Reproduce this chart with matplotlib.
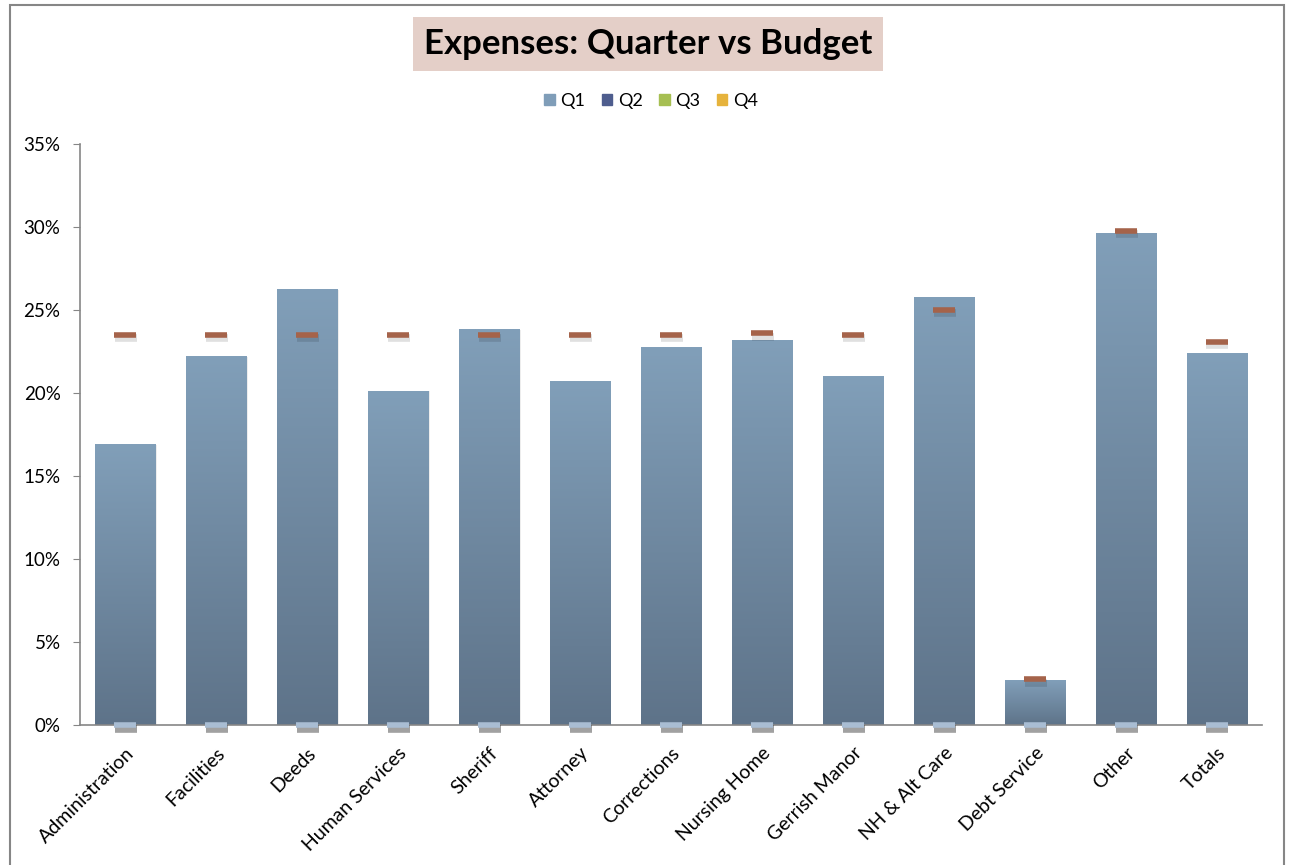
import matplotlib
matplotlib.use("Agg")
import matplotlib.pyplot as plt
import numpy as np
from matplotlib.patches import Rectangle
from matplotlib.colors import LinearSegmentedColormap

categories = ["Administration", "Facilities", "Deeds", "Human Services", "Sheriff",
              "Attorney", "Corrections", "Nursing Home", "Gerrish Manor",
              "NH & Alt Care", "Debt Service", "Other", "Totals"]
q1_actual = [16.9, 22.2, 26.25, 20.15, 23.85, 20.7, 22.75, 23.2, 21.0, 25.8, 2.7, 29.65, 22.4]
budget = [23.5, 23.5, 23.5, 23.5, 23.5, 23.5, 23.5, 23.6, 23.5, 25.0, 2.75, 29.75, 23.1]
zero_line = [0] * 13
legend_labels = ["Q1", "Q2", "Q3", "Q4"]
legend_colors = ["#7F9DB8", "#4E5D8E", "#A6BF52", "#E6B33C"]
yticks = [0, 5, 10, 15, 20, 25, 30, 35]

plt.rcParams['font.family'] = ['Lato', 'DejaVu Sans']

fig = plt.figure(figsize=(12.89, 8.65), dpi=100)
ax = fig.add_axes([80/1289, 1-725/865, (1262-80)/1289, (725-144)/865])

x = np.arange(len(categories))
bars = ax.bar(x, q1_actual, width=0.66, color="#7592AC", zorder=2)

grad = np.linspace(0, 1, 256).reshape(-1, 1)
cmap = LinearSegmentedColormap.from_list("g", ["#5E7389", "#819FB9"])
for b in bars:
    x0, w, h = b.get_x(), b.get_width(), b.get_height()
    ax.add_patch(Rectangle((x0 + 0.015, 0), w, h - 0.05, color="#000000", alpha=0.07,
                           zorder=1.5, lw=0))
    im = ax.imshow(grad, extent=(x0, x0 + w, 0, h), origin="lower", cmap=cmap,
                   aspect="auto", zorder=2.1, interpolation="bilinear")
    im.set_clip_path(b)

MS, MEW = 16, 4
# budget markers with soft shadow
ax.plot(x + 0.01, np.array(budget) - 0.2, linestyle="none", marker="_", markersize=MS,
        markeredgewidth=MEW + 1.5, color="#000000", alpha=0.12, zorder=3)
ax.plot(x, budget, linestyle="none", marker="_", markersize=MS, markeredgewidth=MEW,
        color="#A5634A", zorder=4)
# zero-line markers
ax.plot(x + 0.01, np.array(zero_line) - 0.22, linestyle="none", marker="_", markersize=MS,
        markeredgewidth=MEW + 1.5, color="#303030", alpha=0.45, zorder=3, clip_on=False)
ax.plot(x, zero_line, linestyle="none", marker="_", markersize=MS, markeredgewidth=MEW,
        color="#A9BDD3", zorder=4, clip_on=False)

ax.set_xlim(-0.5, len(categories) - 0.5)
ax.set_ylim(0, 35)
ax.set_yticks(yticks)
ax.set_yticklabels([f"{v}%" for v in yticks], fontsize=13.5)
ax.set_xticks(x)
ax.set_xticklabels(categories, rotation=45, ha="right", rotation_mode="anchor", fontsize=14)
ax.tick_params(axis="x", length=0, pad=14)
ax.tick_params(axis="y", length=5, color="#868686", direction="out", pad=9)
for s in ["top", "right"]:
    ax.spines[s].set_visible(False)
for s in ["left", "bottom"]:
    ax.spines[s].set_color("#868686")
    ax.spines[s].set_linewidth(1.2)

# title
fig.text(648/1289, 1-44/865, "Expenses: Quarter vs Budget", ha="center", va="center",
         fontsize=25, fontweight="bold",
         bbox=dict(boxstyle="square,pad=0.32", facecolor="#E4CFC8", edgecolor="none"))

# legend
handles = [Rectangle((0, 0), 1, 1, color=c) for c in legend_colors]
fig.legend(handles, legend_labels, loc="center", bbox_to_anchor=(651/1289, 1-101/865),
           ncol=4, frameon=False, fontsize=13, handlelength=0.6, handleheight=0.6,
           handletextpad=0.3, columnspacing=0.9)

# outer border (left, top, right edges)
fig.add_artist(Rectangle((10/1289, -0.01), (1284-10)/1289, 1.01 - 5/865,
                         transform=fig.transFigure, fill=False, edgecolor="#868686",
                         linewidth=1.5))

fig.savefig("out.png", dpi=100)
